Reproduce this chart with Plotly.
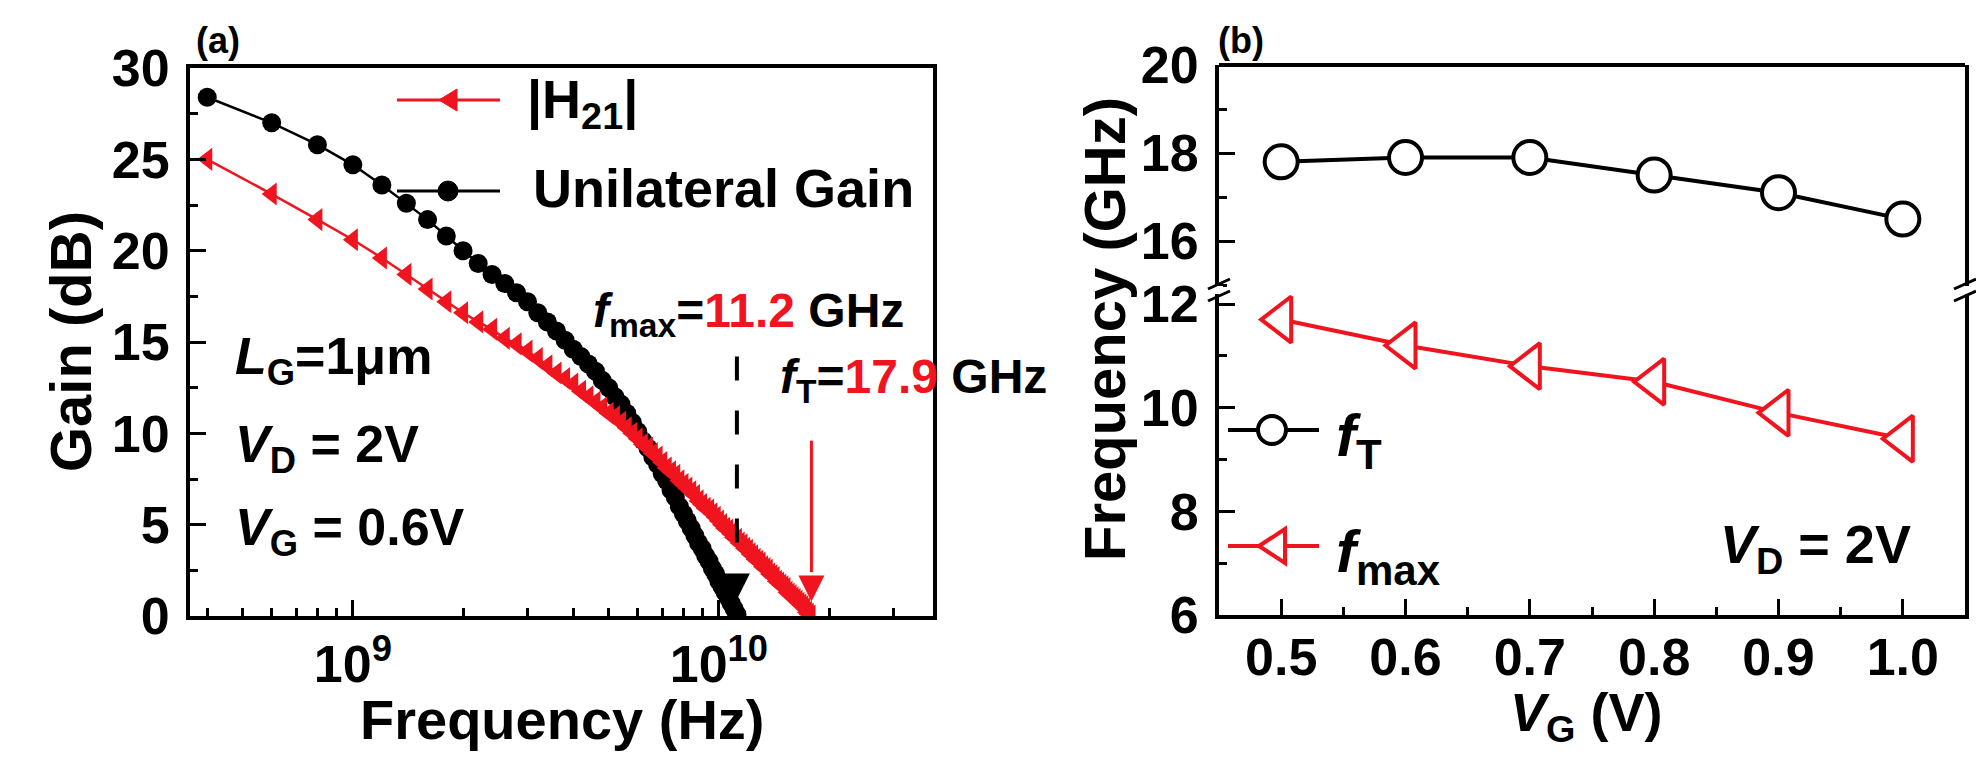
import plotly.graph_objects as go

W, H = 1984, 761
FONT = "Liberation Sans, Arial, Helvetica, sans-serif"
RED = "#f0141e"
BLACK = "#000000"

# ---------------- Panel (a) data ----------------
u_freq_ghz = [0.4, 0.6, 0.8, 1.0, 1.2, 1.4, 1.6, 1.8, 2.0, 2.2, 2.4, 2.6, 2.8, 3.0,
              3.2, 3.4, 3.6, 3.8, 4.0, 4.2, 4.4, 4.6, 4.8, 5.0, 5.2, 5.4, 5.6, 5.8,
              6.0, 6.2, 6.4, 6.6, 6.8, 7.0, 7.2, 7.4, 7.6, 7.8, 8.0, 8.2, 8.4, 8.6,
              8.8, 9.0, 9.2, 9.4, 9.6, 9.8, 10.0, 10.2, 10.4, 10.6, 10.8, 11.0, 11.2, 11.4]
u_gain_db = [28.4, 27.0, 25.8, 24.7, 23.6, 22.6, 21.7, 20.8, 20.0, 19.3, 18.7, 18.2, 17.7, 17.2,
             16.6, 16.1, 15.6, 15.1, 14.6, 14.2, 13.8, 13.4, 12.9, 12.5, 12.0, 11.6, 11.1, 10.6,
             10.1, 9.6, 9.2, 8.7, 8.3, 7.8, 7.4, 6.9, 6.5, 6.0, 5.6, 5.2, 4.8, 4.4,
             4.0, 3.7, 3.3, 3.0, 2.6, 2.3, 1.9, 1.6, 1.3, 1.0, 0.7, 0.4, 0.1, -0.2]

h_freq_ghz = [0.4, 0.6, 0.8, 1.0, 1.2, 1.4, 1.6, 1.8, 2.0, 2.2, 2.4, 2.6, 2.8, 3.0,
              3.2, 3.4, 3.6, 3.8, 4.0, 4.2, 4.4, 4.6, 4.8, 5.0, 5.2, 5.4, 5.6, 5.8,
              6.0, 6.2, 6.4, 6.6, 6.8, 7.0, 7.2, 7.4, 7.6, 7.8, 8.0, 8.2, 8.4, 8.6,
              8.8, 9.0, 9.2, 9.4, 9.6, 9.8, 10.0, 10.2, 10.4, 10.6, 10.8, 11.0, 11.2, 11.4,
              11.6, 11.8, 12.0, 12.2, 12.4, 12.6, 12.8, 13.0, 13.2, 13.4, 13.6, 13.8, 14.0,
              14.2, 14.4, 14.6, 14.8, 15.0, 15.2, 15.4, 15.6, 15.8, 16.0, 16.2, 16.4, 16.6,
              16.8, 17.0, 17.2, 17.4, 17.6, 17.8, 18.0]
h_gain_db = [25.0, 23.1, 21.7, 20.6, 19.6, 18.7, 17.9, 17.2, 16.6, 16.1, 15.7, 15.2, 14.9, 14.5,
             14.1, 13.7, 13.3, 13.0, 12.7, 12.3, 12.0, 11.7, 11.4, 11.1, 10.9, 10.6, 10.3, 10.0,
             9.7, 9.4, 9.2, 8.9, 8.7, 8.4, 8.1, 7.9, 7.7, 7.4, 7.2, 7.0, 6.8, 6.6,
             6.3, 6.1, 5.9, 5.8, 5.6, 5.4, 5.2, 5.0, 4.8, 4.7, 4.5, 4.3, 4.2, 4.0,
             3.9, 3.7, 3.6, 3.4, 3.3, 3.1, 3.0, 2.9, 2.7, 2.6, 2.5, 2.3, 2.2,
             2.1, 1.9, 1.8, 1.7, 1.6, 1.5, 1.3, 1.2, 1.1, 1.0, 0.9, 0.8, 0.7,
             0.6, 0.5, 0.4, 0.2, 0.1, 0.0, -0.1]

FMAX_GHZ = 11.2
FT_GHZ = 17.9

a_major_ticks = [1e9, 1e10]
a_major_text = ["10<sup>9</sup>", "10<sup>10</sup>"]
a_minor_ticks = [4e8, 5e8, 6e8, 7e8, 8e8, 9e8, 2e9, 3e9, 4e9, 5e9, 6e9, 7e9, 8e9, 9e9, 2e10, 3e10]

# ---------------- Panel (b) data ----------------
vg_v = [0.5, 0.6, 0.7, 0.8, 0.9, 1.0]
ft_ghz = [17.8, 17.9, 17.9, 17.5, 17.1, 16.5]
fmax_ghz = [11.7, 11.2, 10.8, 10.5, 9.9, 9.4]
b_xticks = [0.5, 0.6, 0.7, 0.8, 0.9, 1.0]
b_xtext = ["0.5", "0.6", "0.7", "0.8", "0.9", "1.0"]


def px(x):
    return x / W


def py(y):
    return 1 - y / H


fig = go.Figure()

# Panel (a) curves
fig.add_trace(go.Scatter(
    x=[f * 1e9 for f in u_freq_ghz], y=u_gain_db, mode="lines+markers",
    line=dict(color=BLACK, width=2.5),
    marker=dict(symbol="circle", size=19, color=BLACK),
    xaxis="x", yaxis="y", showlegend=False, name="Unilateral Gain"))
fig.add_trace(go.Scatter(
    x=[f * 1e9 for f in h_freq_ghz], y=h_gain_db, mode="lines+markers",
    line=dict(color=RED, width=2.5),
    marker=dict(symbol="triangle-left", size=20, color=RED),
    xaxis="x", yaxis="y", showlegend=False, name="|H21|"))

# arrows marking fmax and fT
fig.add_trace(go.Scatter(
    x=[FMAX_GHZ * 1e9, FMAX_GHZ * 1e9], y=[14.2, 2.6], mode="lines",
    line=dict(color=BLACK, width=4, dash="24px,30px"),
    xaxis="x", yaxis="y", showlegend=False, hoverinfo="skip"))
fig.add_trace(go.Scatter(
    x=[FMAX_GHZ * 1e9], y=[0.9], mode="markers",
    marker=dict(symbol="arrow-down", size=26, color=BLACK, line=dict(width=0)),
    xaxis="x", yaxis="y", showlegend=False, hoverinfo="skip", cliponaxis=False))
fig.add_trace(go.Scatter(
    x=[FT_GHZ * 1e9, FT_GHZ * 1e9], y=[9.6, 2.4], mode="lines",
    line=dict(color=RED, width=3),
    xaxis="x", yaxis="y", showlegend=False, hoverinfo="skip"))
fig.add_trace(go.Scatter(
    x=[FT_GHZ * 1e9], y=[0.8], mode="markers",
    marker=dict(symbol="arrow-down", size=26, color=RED, line=dict(width=0)),
    xaxis="x", yaxis="y", showlegend=False, hoverinfo="skip", cliponaxis=False))

# Panel (b) curves
fig.add_trace(go.Scatter(
    x=vg_v, y=ft_ghz, mode="lines+markers",
    line=dict(color=BLACK, width=4),
    marker=dict(symbol="circle", size=33, color="white", line=dict(color=BLACK, width=4)),
    xaxis="x2", yaxis="y3", showlegend=False, name="fT"))
fig.add_trace(go.Scatter(
    x=vg_v, y=fmax_ghz, mode="lines+markers",
    line=dict(color=RED, width=4),
    marker=dict(symbol="triangle-left", size=40, color="white", line=dict(color=RED, width=4)),
    xaxis="x2", yaxis="y2", showlegend=False, name="fmax"))

tickfont = dict(family=FONT, size=52, color=BLACK, weight="bold")
common = dict(showline=True, linewidth=4, linecolor=BLACK, ticks="inside", tickwidth=3,
              ticklen=16, tickcolor=BLACK, showgrid=False, zeroline=False, tickfont=tickfont,
              automargin=False)
minor_common = dict(ticks="inside", ticklen=8, tickwidth=2.5, tickcolor=BLACK, showgrid=False)

B_BREAK = 282
fig.update_layout(
    width=W, height=H, margin=dict(l=0, r=0, t=0, b=0, autoexpand=False),
    paper_bgcolor="white", plot_bgcolor="white",
    font=dict(family=FONT, color=BLACK),
    xaxis=dict(domain=[px(182), px(925)], type="log", range=[8.555, 10.585], anchor="y",
               mirror=True, tickmode="array", tickvals=a_major_ticks, ticktext=a_major_text,
               ticklabelstandoff=0, minor=dict(tickvals=a_minor_ticks, **minor_common), **common),
    yaxis=dict(domain=[py(608), py(60)], range=[0, 30], anchor="x", mirror=True,
               tickmode="linear", tick0=0, dtick=5, ticklabelstandoff=6,
               minor=dict(tick0=0, dtick=2.5, **minor_common), **common),
    xaxis2=dict(domain=[px(1211), px(1957)], range=[0.45, 1.05], anchor="y2", mirror=False,
                tickmode="array", tickvals=b_xticks, ticktext=b_xtext, ticklabelstandoff=-6,
                minor=dict(tick0=0.45, dtick=0.05, **minor_common), **common),
    yaxis2=dict(domain=[py(607), py(B_BREAK)], range=[6, 12.27], anchor="x2", mirror=True,
                tickmode="array", tickvals=[6, 8, 10, 12], ticklabelstandoff=6,
                minor=dict(tickvals=[7, 9, 11], **minor_common), **common),
    yaxis3=dict(domain=[py(B_BREAK), py(57)], range=[14.89, 20], anchor="x2", mirror=True,
                tickmode="array", tickvals=[16, 18, 20], ticklabelstandoff=6,
                minor=dict(tickvals=[15, 17, 19], **minor_common), **common),
)

shapes = []
# top border of panel (b)
shapes.append(dict(type="line", xref="x2 domain", yref="y3 domain", x0=0, x1=1, y0=1, y1=1,
                   line=dict(color=BLACK, width=4), layer="above"))
# axis break marks on panel (b)
for xb in (1211, 1957):
    shapes.append(dict(type="rect", xref="paper", yref="paper", xsizemode="pixel", ysizemode="pixel",
                       xanchor=px(xb), yanchor=py(B_BREAK), x0=-4, x1=4, y0=-4, y1=4,
                       fillcolor="white", line=dict(width=0), layer="above"))
    for dy in (-6, 6):
        shapes.append(dict(type="line", xref="paper", yref="paper", xsizemode="pixel", ysizemode="pixel",
                           xanchor=px(xb), yanchor=py(B_BREAK), x0=-11, x1=11, y0=dy - 5, y1=dy + 5,
                           line=dict(color=BLACK, width=3), layer="above"))

# legend keys panel (a)
shapes.append(dict(type="line", xref="paper", yref="paper", x0=px(389), x1=px(492), y0=py(92), y1=py(92),
                   line=dict(color=RED, width=3)))
shapes.append(dict(type="path", xref="paper", yref="paper", xsizemode="pixel", ysizemode="pixel",
                   xanchor=px(440), yanchor=py(92), path="M -9,0 L 9,11 L 9,-11 Z",
                   fillcolor=RED, line=dict(color=RED, width=1)))
shapes.append(dict(type="line", xref="paper", yref="paper", x0=px(389), x1=px(492), y0=py(183), y1=py(183),
                   line=dict(color=BLACK, width=3)))
shapes.append(dict(type="circle", xref="paper", yref="paper", xsizemode="pixel", ysizemode="pixel",
                   xanchor=px(440), yanchor=py(183), x0=-10, x1=10, y0=-10, y1=10,
                   fillcolor=BLACK, line=dict(color=BLACK, width=1)))
# legend keys panel (b)
shapes.append(dict(type="line", xref="paper", yref="paper", x0=px(1220), x1=px(1311), y0=py(422), y1=py(422),
                   line=dict(color=BLACK, width=4)))
shapes.append(dict(type="circle", xref="paper", yref="paper", xsizemode="pixel", ysizemode="pixel",
                   xanchor=px(1264), yanchor=py(422), x0=-14, x1=14, y0=-14, y1=14,
                   fillcolor="white", line=dict(color=BLACK, width=4)))
shapes.append(dict(type="line", xref="paper", yref="paper", x0=px(1220), x1=px(1311), y0=py(538), y1=py(538),
                   line=dict(color=RED, width=4)))
shapes.append(dict(type="path", xref="paper", yref="paper", xsizemode="pixel", ysizemode="pixel",
                   xanchor=px(1264), yanchor=py(538), path="M -13,0 L 13,17 L 13,-17 Z",
                   fillcolor="white", line=dict(color=RED, width=4)))
fig.update_layout(shapes=shapes)


def ann(text, x, y, size, xanchor="left", yanchor="middle", angle=0):
    return dict(text=text, x=px(x), y=py(y), xref="paper", yref="paper", showarrow=False,
                xanchor=xanchor, yanchor=yanchor, textangle=angle,
                font=dict(family=FONT, size=size, color=BLACK, weight="bold"))


red = lambda s: f"<span style='color:{RED}'>{s}</span>"
anns = [
    ann("(a)", 210, 33, 36, xanchor="center"),
    ann("(b)", 1233, 32, 36, xanchor="center"),
    ann("Gain (dB)", 62, 334, 58, xanchor="center", angle=-90),
    ann("Frequency (Hz)", 554, 678, 56, xanchor="center", yanchor="top"),
    ann("Frequency (GHz)", 1096, 321, 58, xanchor="center", angle=-90),
    ann("<i>V</i><sub>G</sub> (V)", 1578, 672, 54, xanchor="center", yanchor="top"),
    ann("|H<sub>21</sub>|", 517, 95, 54),
    ann("Unilateral Gain", 523, 180, 54),
    ann("<i>L</i><sub>G</sub>=1μm", 225, 352, 52),
    ann("<i>V</i><sub>D</sub> = 2V", 225, 440, 52),
    ann("<i>V</i><sub>G</sub> = 0.6V", 225, 523, 52),
    ann("<i>f</i><sub>max</sub>=" + red("11.2") + " GHz", 583, 306, 48),
    ann("<i>f</i><sub>T</sub>=" + red("17.9") + " GHz", 770, 372, 48),
    ann("<i>f</i><sub>T</sub>", 1326, 432, 60),
    ann("<i>f</i><sub>max</sub>", 1326, 548, 60),
    ann("<i>V</i><sub>D</sub> = 2V", 1710, 540, 54),
]
fig.update_layout(annotations=anns)

fig.write_html("out.html")
